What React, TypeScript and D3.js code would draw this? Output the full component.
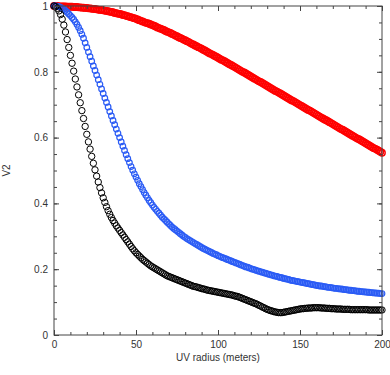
import { useEffect, useRef } from "react";
import * as d3 from "d3";

// uv radius grid, one sample per meter
const radius = d3.range(0, 201, 1);

// V2, 10 samples per row (0-9, 10-19, ...)
const redV2 = [
  1.000, 1.000, 1.000, 0.999, 0.999, 0.999, 0.999, 0.999, 0.998, 0.998,
  0.998, 0.998, 0.997, 0.997, 0.997, 0.996, 0.996, 0.995, 0.995, 0.994,
  0.994, 0.993, 0.993, 0.992, 0.991, 0.991, 0.990, 0.989, 0.988, 0.988,
  0.987, 0.986, 0.985, 0.984, 0.983, 0.982, 0.981, 0.979, 0.978, 0.977,
  0.976, 0.975, 0.973, 0.972, 0.970, 0.969, 0.967, 0.966, 0.964, 0.963,
  0.961, 0.959, 0.957, 0.955, 0.953, 0.951, 0.949, 0.948, 0.946, 0.944,
  0.942, 0.940, 0.938, 0.935, 0.933, 0.931, 0.929, 0.927, 0.924, 0.922,
  0.920, 0.918, 0.915, 0.913, 0.910, 0.908, 0.905, 0.903, 0.901, 0.898,
  0.896, 0.893, 0.891, 0.888, 0.885, 0.883, 0.880, 0.878, 0.875, 0.873,
  0.870, 0.867, 0.865, 0.862, 0.859, 0.856, 0.854, 0.851, 0.848, 0.846,
  0.843, 0.840, 0.837, 0.835, 0.832, 0.829, 0.826, 0.823, 0.821, 0.818,
  0.815, 0.812, 0.809, 0.806, 0.803, 0.800, 0.798, 0.795, 0.792, 0.789,
  0.786, 0.783, 0.780, 0.777, 0.774, 0.771, 0.769, 0.766, 0.763, 0.760,
  0.757, 0.754, 0.751, 0.748, 0.745, 0.742, 0.740, 0.737, 0.734, 0.731,
  0.728, 0.725, 0.722, 0.719, 0.716, 0.713, 0.711, 0.708, 0.705, 0.702,
  0.699, 0.696, 0.693, 0.690, 0.687, 0.684, 0.682, 0.679, 0.676, 0.673,
  0.670, 0.667, 0.664, 0.661, 0.658, 0.655, 0.653, 0.650, 0.647, 0.644,
  0.641, 0.638, 0.635, 0.632, 0.629, 0.626, 0.624, 0.621, 0.618, 0.615,
  0.612, 0.609, 0.606, 0.603, 0.600, 0.597, 0.595, 0.592, 0.589, 0.586,
  0.583, 0.580, 0.577, 0.574, 0.571, 0.568, 0.566, 0.563, 0.560, 0.557,
  0.554,
];

const blueV2 = [
  1.000, 1.000, 0.999, 0.998, 0.996, 0.993, 0.990, 0.986, 0.981, 0.976,
  0.971, 0.965, 0.959, 0.952, 0.944, 0.935, 0.925, 0.914, 0.902, 0.888,
  0.874, 0.860, 0.846, 0.832, 0.818, 0.804, 0.790, 0.776, 0.762, 0.748,
  0.734, 0.720, 0.707, 0.693, 0.679, 0.666, 0.652, 0.639, 0.626, 0.613,
  0.600, 0.587, 0.574, 0.561, 0.548, 0.536, 0.524, 0.512, 0.501, 0.490,
  0.480, 0.470, 0.460, 0.451, 0.442, 0.433, 0.425, 0.417, 0.409, 0.402,
  0.395, 0.388, 0.382, 0.376, 0.370, 0.364, 0.358, 0.353, 0.348, 0.343,
  0.338, 0.333, 0.328, 0.324, 0.320, 0.316, 0.312, 0.308, 0.304, 0.300,
  0.297, 0.293, 0.290, 0.287, 0.284, 0.281, 0.278, 0.275, 0.272, 0.269,
  0.266, 0.263, 0.261, 0.258, 0.256, 0.253, 0.251, 0.248, 0.246, 0.244,
  0.241, 0.239, 0.237, 0.235, 0.233, 0.231, 0.229, 0.227, 0.225, 0.223,
  0.221, 0.219, 0.217, 0.215, 0.213, 0.211, 0.209, 0.207, 0.206, 0.204,
  0.202, 0.200, 0.199, 0.197, 0.195, 0.194, 0.192, 0.191, 0.189, 0.188,
  0.186, 0.185, 0.183, 0.182, 0.180, 0.179, 0.178, 0.176, 0.175, 0.174,
  0.172, 0.171, 0.170, 0.169, 0.167, 0.166, 0.165, 0.164, 0.163, 0.162,
  0.161, 0.160, 0.159, 0.158, 0.157, 0.156, 0.155, 0.154, 0.153, 0.152,
  0.151, 0.150, 0.149, 0.149, 0.148, 0.147, 0.146, 0.145, 0.145, 0.144,
  0.143, 0.142, 0.142, 0.141, 0.140, 0.140, 0.139, 0.138, 0.138, 0.137,
  0.136, 0.136, 0.135, 0.135, 0.134, 0.133, 0.133, 0.132, 0.132, 0.131,
  0.131, 0.130, 0.130, 0.129, 0.129, 0.128, 0.128, 0.127, 0.127, 0.126,
  0.126,
];

const blackV2 = [
  1.000, 0.998, 0.993, 0.985, 0.974, 0.960, 0.942, 0.921, 0.898, 0.874,
  0.850, 0.826, 0.802, 0.778, 0.754, 0.730, 0.706, 0.682, 0.658, 0.634,
  0.610, 0.587, 0.565, 0.543, 0.522, 0.502, 0.483, 0.465, 0.448, 0.432,
  0.417, 0.403, 0.390, 0.378, 0.367, 0.357, 0.348, 0.340, 0.332, 0.325,
  0.318, 0.311, 0.304, 0.297, 0.290, 0.283, 0.276, 0.269, 0.262, 0.256,
  0.250, 0.245, 0.240, 0.235, 0.230, 0.226, 0.222, 0.218, 0.214, 0.210,
  0.207, 0.204, 0.201, 0.198, 0.195, 0.192, 0.189, 0.186, 0.183, 0.180,
  0.178, 0.176, 0.174, 0.172, 0.170, 0.168, 0.166, 0.164, 0.162, 0.160,
  0.158, 0.156, 0.154, 0.152, 0.150, 0.148, 0.147, 0.146, 0.144, 0.143,
  0.141, 0.140, 0.139, 0.137, 0.136, 0.135, 0.134, 0.133, 0.132, 0.131,
  0.130, 0.129, 0.128, 0.127, 0.126, 0.125, 0.124, 0.123, 0.122, 0.121,
  0.119, 0.118, 0.117, 0.115, 0.113, 0.111, 0.109, 0.107, 0.105, 0.103,
  0.101, 0.099, 0.097, 0.095, 0.093, 0.090, 0.088, 0.085, 0.083, 0.080,
  0.078, 0.076, 0.074, 0.073, 0.071, 0.070, 0.069, 0.068, 0.068, 0.068,
  0.069, 0.070, 0.071, 0.072, 0.073, 0.074, 0.075, 0.076, 0.077, 0.078,
  0.079, 0.080, 0.080, 0.081, 0.081, 0.082, 0.082, 0.082, 0.083, 0.083,
  0.083, 0.083, 0.083, 0.082, 0.082, 0.082, 0.081, 0.081, 0.081, 0.080,
  0.080, 0.080, 0.079, 0.079, 0.079, 0.079, 0.078, 0.078, 0.078, 0.078,
  0.078, 0.077, 0.077, 0.077, 0.077, 0.077, 0.077, 0.077, 0.077, 0.077,
  0.077, 0.077, 0.076, 0.076, 0.076, 0.076, 0.076, 0.076, 0.076, 0.076,
  0.076,
];

const xTicks = [0, 50, 100, 150, 200];
const yTicks = [0, 0.2, 0.4, 0.6, 0.8, 1];

const VisibilityPlot = () => {
  const ref = useRef<SVGSVGElement>(null);

  useEffect(() => {
    const width = 390, height = 375;
    const margin = { top: 6, right: 8, bottom: 40, left: 54 };
    const font = "'Liberation Sans', Arial, sans-serif";
    const axisColor = "#444";

    const svg = d3.select(ref.current);
    svg.selectAll("*").remove();

    const xScale = d3.scaleLinear().domain([0, 200]).range([margin.left, width - margin.right]);
    const yScale = d3.scaleLinear().domain([0, 1]).range([height - margin.bottom, margin.top]);

    const series = [
      { values: redV2, color: "#ff0000", r: 3.2, sw: 1.4 },
      { values: blueV2, color: "#2b5cf5", r: 2.8, sw: 1.2 },
      { values: blackV2, color: "#000000", r: 3.2, sw: 1 },
    ];

    series.forEach((s) => {
      svg.append("g")
        .selectAll("circle")
        .data(radius)
        .join("circle")
        .attr("cx", (d) => xScale(d))
        .attr("cy", (d, i) => yScale(s.values[i]))
        .attr("r", s.r)
        .attr("fill", "none")
        .attr("stroke", s.color)
        .attr("stroke-width", s.sw);
    });

    const styleAxis = (g: any) => {
      g.select(".domain").remove();
      g.selectAll("line").attr("stroke", axisColor);
      g.selectAll("text").attr("fill", "#333").attr("font-family", font).attr("font-size", 10);
    };

    const bottom = height - margin.bottom;
    const right = width - margin.right;
    const minorX = d3.range(0, 201, 10);
    const minorY = d3.range(0, 1.001, 0.05);

    // bottom axis, ticks pointing in
    svg.append("g").attr("transform", `translate(0,${bottom})`)
      .call(d3.axisBottom(xScale).tickValues(minorX).tickSize(-3).tickFormat(() => ""))
      .call(styleAxis);
    svg.append("g").attr("transform", `translate(0,${bottom})`)
      .call(d3.axisBottom(xScale).tickValues(xTicks).tickSize(-5).tickPadding(6).tickFormat(d3.format("d")))
      .call(styleAxis);

    // top axis
    svg.append("g").attr("transform", `translate(0,${margin.top})`)
      .call(d3.axisTop(xScale).tickValues(minorX).tickSize(-3).tickFormat(() => ""))
      .call(styleAxis);
    svg.append("g").attr("transform", `translate(0,${margin.top})`)
      .call(d3.axisTop(xScale).tickValues(xTicks).tickSize(-5).tickFormat(() => ""))
      .call(styleAxis);

    // left axis
    svg.append("g").attr("transform", `translate(${margin.left},0)`)
      .call(d3.axisLeft(yScale).tickValues(minorY).tickSize(-3).tickFormat(() => ""))
      .call(styleAxis);
    svg.append("g").attr("transform", `translate(${margin.left},0)`)
      .call(d3.axisLeft(yScale).tickValues(yTicks).tickSize(-5).tickPadding(6)
        .tickFormat((d: any) => (d === 0 || d === 1 ? String(d) : d3.format(".1f")(d))))
      .call(styleAxis);

    // right axis
    svg.append("g").attr("transform", `translate(${right},0)`)
      .call(d3.axisRight(yScale).tickValues(minorY).tickSize(-3).tickFormat(() => ""))
      .call(styleAxis);
    svg.append("g").attr("transform", `translate(${right},0)`)
      .call(d3.axisRight(yScale).tickValues(yTicks).tickSize(-5).tickFormat(() => ""))
      .call(styleAxis);

    // frame
    svg.append("rect")
      .attr("x", margin.left)
      .attr("y", margin.top)
      .attr("width", right - margin.left)
      .attr("height", bottom - margin.top)
      .attr("fill", "none")
      .attr("stroke", axisColor)
      .attr("stroke-width", 1);

    svg.append("text")
      .attr("x", (margin.left + right) / 2)
      .attr("y", bottom + 26)
      .attr("text-anchor", "middle")
      .attr("font-family", font)
      .attr("font-size", 10)
      .attr("fill", "#333")
      .text("UV radius (meters)");

    svg.append("text")
      .attr("transform", `translate(10,${(margin.top + bottom) / 2}) rotate(-90)`)
      .attr("text-anchor", "middle")
      .attr("font-family", font)
      .attr("font-size", 10)
      .attr("fill", "#333")
      .text("V2");
  }, []);

  return (
    <svg
      ref={ref}
      width={390}
      height={375}
      style={{ position: "absolute", left: 0, top: 0, background: "#fff" }}
    />
  );
};

export default function App() {
  return <VisibilityPlot />;
}
